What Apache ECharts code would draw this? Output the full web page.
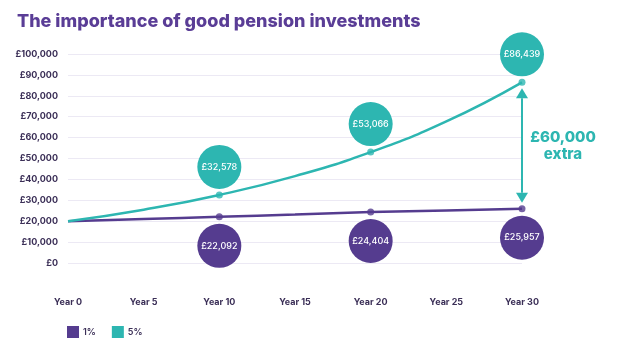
<!DOCTYPE html>
<html><head><meta charset="utf-8">
<script src="https://cdn.jsdelivr.net/npm/echarts@6/dist/echarts.min.js"></script>
<style>html,body{margin:0;padding:0;background:#fff}#c{width:620px;height:356px}</style>
</head><body><div id="c"></div>
<script>
var title = 'The importance of good pension investments';
var years = [0, 5, 10, 15, 20, 25, 30];
var series1 = [20000, 21020, 22092, 23220, 24404, 25140, 25957];
var series5 = [20000, 25526, 32578, 41579, 53066, 67727, 86439];
var labelYears = [10, 20, 30];
var labels1 = [22092, 24404, 25957];
var labels5 = [32578, 53066, 86439];
var seriesNames = ['1%', '5%'];
var gapText = '£60,000\nextra';

var PURPLE = '#553c8f', TEAL = '#2db6b1', TXT = '#3b2f57';
var FONT = 'Inter';
function money(v){ return '£' + v.toLocaleString('en-GB'); }
function pairs(xs, ys){ return xs.map(function(x,i){ return [x, ys[i]]; }); }
function markIdx(xs, ys){ return labelYears.map(function(y){ return [y, ys[xs.indexOf(y)]]; }); }

var chart = echarts.init(document.getElementById('c'));
var option = {
  animation: false,
  textStyle: { fontFamily: FONT },
  title: { text: title, left: 12, top: 8,
    textStyle: { color: '#5a3d96', fontSize: 18, fontWeight: 800, fontFamily: FONT } },
  legend: { left: 62, top: 321, itemWidth: 12, itemHeight: 12, itemGap: 16,
    icon: 'rect', data: seriesNames,
    textStyle: { color: TXT, fontSize: 9, fontWeight: 600, padding: [0,0,0,-1] } },
  grid: { left: 68, right: 98, top: 54, bottom: 93 },
  xAxis: { type: 'value', min: 0, max: 30, interval: 5,
    axisLine: { show: false }, axisTick: { show: false }, splitLine: { show: false },
    axisLabel: { margin: 35, color: TXT, fontSize: 9, fontWeight: 700,
      formatter: function(v){ return 'Year ' + v; } } },
  yAxis: { type: 'value', min: 0, max: 100000, interval: 10000,
    axisLine: { show: false }, axisTick: { show: false },
    splitLine: { lineStyle: { color: '#ece9f4', width: 1 } },
    axisLabel: { margin: 10, color: TXT, fontSize: 9, fontWeight: 700,
      formatter: function(v){ return money(v); } } },
  series: [
    { name: seriesNames[0], type: 'line', smooth: true, showSymbol: false,
      data: pairs(years, series1), lineStyle: { color: PURPLE, width: 2.5 },
      itemStyle: { color: PURPLE }, z: 3 },
    { name: seriesNames[1], type: 'line', smooth: true, showSymbol: false,
      data: pairs(years, series5), lineStyle: { color: TEAL, width: 2.5 },
      itemStyle: { color: TEAL }, z: 3 },
    { name: 'dots1', type: 'scatter', data: markIdx(years, series1), symbolSize: 7,
      itemStyle: { color: PURPLE }, z: 4, silent: true },
    { name: 'dots5', type: 'scatter', data: markIdx(years, series5), symbolSize: 7,
      itemStyle: { color: TEAL }, z: 4, silent: true },
    { name: 'bub1', type: 'scatter', data: pairs(labelYears, labels1), symbolSize: 44,
      symbolOffset: [0, 29], itemStyle: { color: PURPLE, opacity: 1 }, z: 5, silent: true,
      label: { show: true, position: 'inside', color: '#fff', fontSize: 9, fontWeight: 500,
        formatter: function(p){ return money(p.value[1]); } } },
    { name: 'bub5', type: 'scatter', data: pairs(labelYears, labels5), symbolSize: 44,
      symbolOffset: [0, -28], itemStyle: { color: TEAL, opacity: 1 }, z: 5, silent: true,
      label: { show: true, position: 'inside', color: '#fff', fontSize: 9, fontWeight: 500,
        formatter: function(p){ return money(p.value[1]); } } }
  ]
};
chart.setOption(option);

var lastYear = years[years.length-1];
var pTop = chart.convertToPixel({gridIndex:0}, [lastYear, series5[series5.length-1]]);
var pBot = chart.convertToPixel({gridIndex:0}, [lastYear, series1[series1.length-1]]);
var ax = pTop[0], ay1 = pTop[1] + 6, ay2 = pBot[1] - 6, ah = 10, aw = 6;
chart.setOption({ graphic: [
  { type: 'line', shape: { x1: ax, y1: ay1 + ah, x2: ax, y2: ay2 - ah }, style: { stroke: TEAL, lineWidth: 2 }, z: 10 },
  { type: 'polygon', shape: { points: [[ax, ay1], [ax - aw, ay1 + ah], [ax + aw, ay1 + ah]] }, style: { fill: TEAL }, z: 10 },
  { type: 'polygon', shape: { points: [[ax, ay2], [ax - aw, ay2 - ah], [ax + aw, ay2 - ah]] }, style: { fill: TEAL }, z: 10 },
  { type: 'text', x: ax + 41, y: (ay1 + ay2) / 2, style: { text: gapText, fill: TEAL, font: '800 15px "' + FONT + '"',
      textAlign: 'center', textVerticalAlign: 'middle', lineHeight: 17 }, z: 10 }
]});
</script></body></html>
